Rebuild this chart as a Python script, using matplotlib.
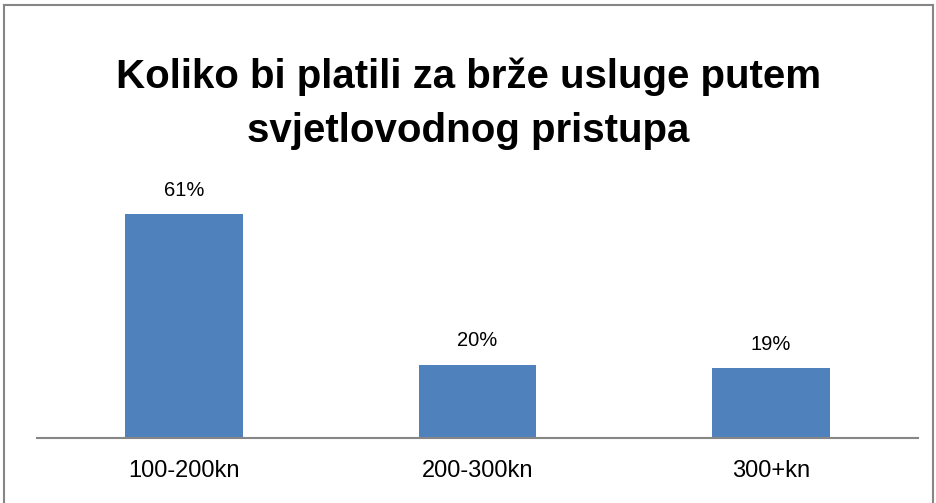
import matplotlib
matplotlib.use("Agg")
import matplotlib.pyplot as plt
from matplotlib.lines import Line2D

categories = ["100-200kn", "200-300kn", "300+kn"]
values = [61, 20, 19]
labels = ["61%", "20%", "19%"]
title = "Koliko bi platili za brže usluge putem\nsvjetlovodnog pristupa"

plt.rcParams['font.family'] = ['Liberation Sans', 'DejaVu Sans']

W, H = 937, 503
fig = plt.figure(figsize=(W / 100, H / 100), dpi=100)
ax = fig.add_axes([37 / W, (H - 438) / H, (918 - 37) / W, 257 / H])

x = range(len(categories))
ax.bar(x, values, width=0.4, color="#4F81BD", zorder=2)
ax.set_xlim(-0.5, len(categories) - 0.5)
ax.set_ylim(0, 70)
for xi, v, lab in zip(x, values, labels):
    ax.annotate(lab, (xi, v), xytext=(0, 17), textcoords="offset points",
                ha="center", va="center", fontsize=14.5, color="#000000")

ax.set_xticks(list(x))
ax.set_xticklabels(categories, fontsize=17)
ax.tick_params(axis="x", length=0, pad=16)
ax.set_yticks([])
for s in ["top", "right", "left"]:
    ax.spines[s].set_visible(False)
ax.spines["bottom"].set_color("#868686")
ax.spines["bottom"].set_linewidth(1.5)

fig.text(0.5, 1 - 104 / H, title, ha="center", va="center",
         fontsize=29, fontweight="bold", linespacing=1.55)

# chart border
bc = "#868686"
fig.add_artist(Line2D([4 / W, 4 / W], [0, 1 - 5 / H], transform=fig.transFigure, color=bc, lw=1.5))
fig.add_artist(Line2D([4 / W, 933 / W], [1 - 5 / H, 1 - 5 / H], transform=fig.transFigure, color=bc, lw=1.5))
fig.add_artist(Line2D([933 / W, 933 / W], [0, 1 - 5 / H], transform=fig.transFigure, color=bc, lw=1.5))

fig.savefig("out.png", dpi=100)
